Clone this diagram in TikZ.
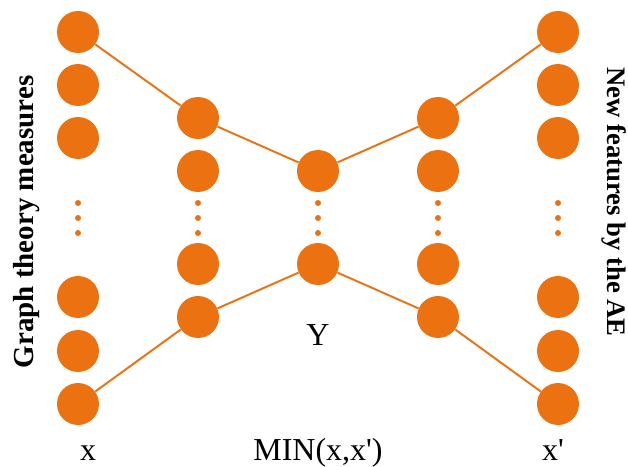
\documentclass[tikz,border=0pt]{standalone}
\usepackage{fontspec}
\setmainfont{Liberation Serif}
\definecolor{NeuronOrange}{RGB}{236,114,17}
\tikzset{
  neuron/.style={circle, fill=NeuronOrange, inner sep=0pt, minimum size=0.84cm},
  gapdot/.style={circle, fill=NeuronOrange, inner sep=0pt, minimum size=0.12cm},
  link/.style={draw=NeuronOrange, line width=1.1pt},
  caption/.style={anchor=base, font=\fontsize{18.2pt}{22pt}\selectfont},
  sidetitle/.style={anchor=base, font=\bfseries\fontsize{16.5pt}{20pt}\selectfont},
}

\begin{document}
\begin{tikzpicture}[x=0.02cm, y=-0.02cm]
\useasboundingbox (0,0) rectangle (628,466);

% input layer
\node[neuron] (x1) at (78, 32) {};
\node[neuron] (x2) at (78, 85) {};
\node[neuron] (x3) at (78, 138) {};
\node[neuron] (x4) at (78, 297) {};
\node[neuron] (x5) at (78, 351) {};
\node[neuron] (x6) at (78, 404) {};

% encoder
\node[neuron] (e1) at (198, 118) {};
\node[neuron] (e2) at (198, 171) {};
\node[neuron] (e3) at (198, 264) {};
\node[neuron] (e4) at (198, 317) {};

% code
\node[neuron] (y1) at (318, 171) {};
\node[neuron] (y2) at (318, 264) {};

% decoder
\node[neuron] (d1) at (438, 118) {};
\node[neuron] (d2) at (438, 171) {};
\node[neuron] (d3) at (438, 264) {};
\node[neuron] (d4) at (438, 317) {};

% output layer
\node[neuron] (o1) at (558, 32) {};
\node[neuron] (o2) at (558, 85) {};
\node[neuron] (o3) at (558, 138) {};
\node[neuron] (o4) at (558, 297) {};
\node[neuron] (o5) at (558, 351) {};
\node[neuron] (o6) at (558, 404) {};

% vertical dots between the neurons
\foreach \col in {78, 198, 318, 438, 558}
  \foreach \row in {203, 218, 233}
    \node[gapdot] at (\col, \row) {};

\draw[link] (x1) -- (e1) -- (y1) -- (d1) -- (o1);
\draw[link] (x6) -- (e4) -- (y2) -- (d4) -- (o6);

\node[caption] (lx) at (88, 460) {x};
\node[caption] (lxp) at (553, 460) {x\textquotesingle};
\node[caption] (lmin) at (318, 460) {MIN(x,x\textquotesingle)};
\node[caption] (ly) at (318, 345) {Y};

\node[sidetitle, rotate=90] (tin) at (33, 222) {Graph theory measures};
\node[sidetitle, rotate=-90, font=\bfseries\fontsize{15.2pt}{18pt}\selectfont] (tout) at (607, 202) {New features by the AE};

\end{tikzpicture}
\end{document}
